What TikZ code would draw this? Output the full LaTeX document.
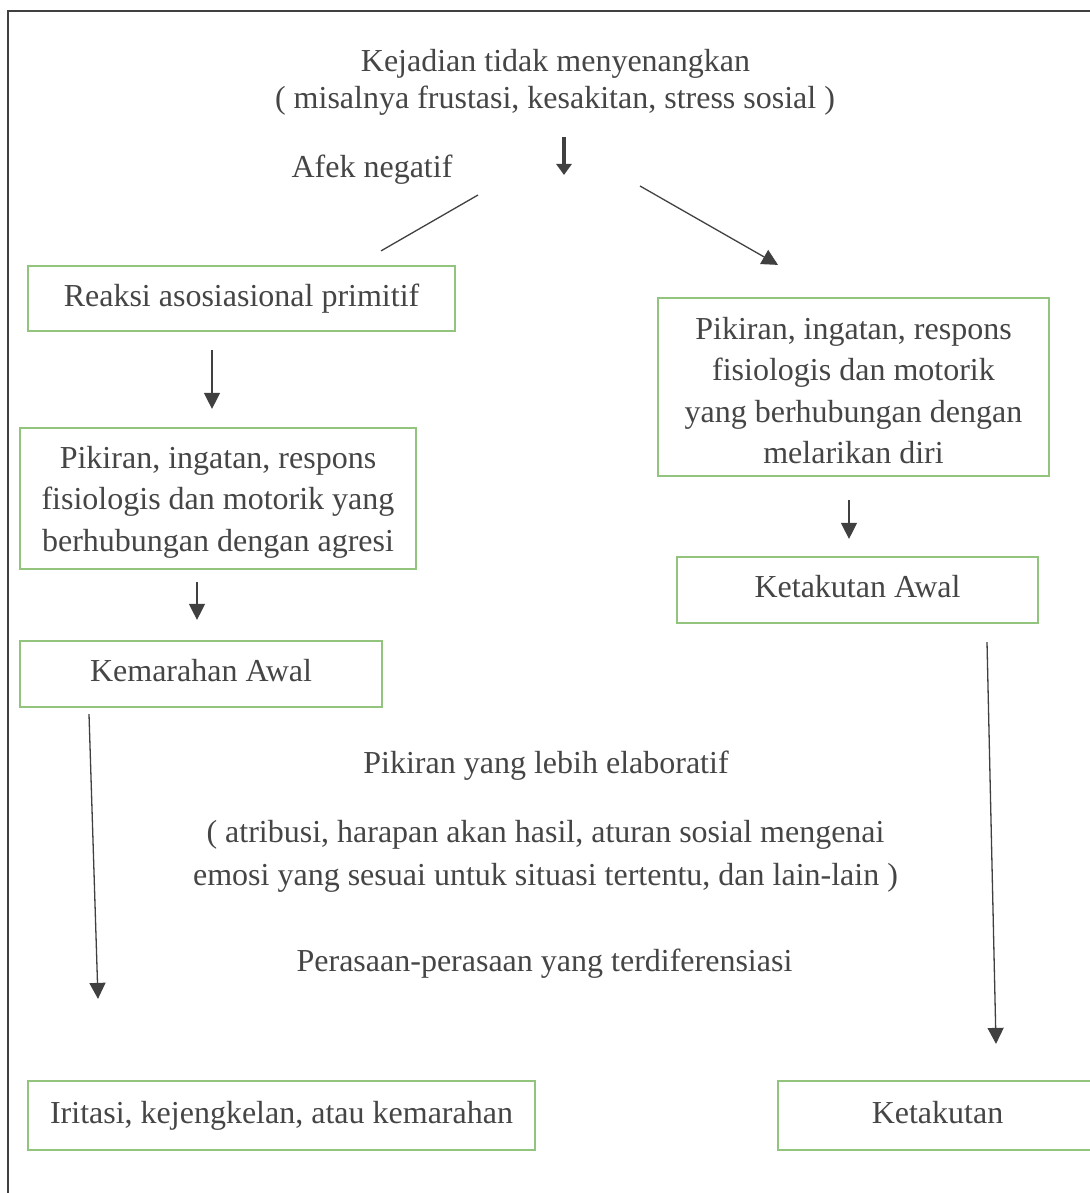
\documentclass[tikz,border=0pt]{standalone}
\usepackage{fontspec}
\setmainfont{Liberation Serif}
\usetikzlibrary{arrows.meta,calc}
\definecolor{txtc}{HTML}{454545}
\definecolor{linec}{HTML}{404040}
\definecolor{boxg}{HTML}{93C47D}
\newcommand{\fstrut}[1]{\rule{0pt}{#1}}
\newcommand{\lstrut}{\rule[-7pt]{0pt}{7pt}}
\begin{document}
\begin{tikzpicture}[x=1pt,y=-1pt,
  every node/.style={font=\fontsize{32}{41.5}\selectfont, text=txtc},
  box/.style={draw=boxg, line width=2.2pt, align=center, inner sep=0pt},
  sbox/.style={box, text height=22pt, text depth=7pt},
  txt/.style={inner sep=0pt, anchor=base},
  arr/.style={draw=linec, line width=1.3pt, -{Triangle[width=16pt,length=16pt]}},
  ln/.style={draw=linec, line width=1.3pt},
  thk/.style={draw=linec, line width=4pt, -{Triangle[width=15pt,length=11pt]}}]
\useasboundingbox (0,0) rectangle (1089,1193);
% outer frame
\draw[linec, line width=2pt] (8,1260) -- (8,11) -- (1160,11);

% free texts
\node[txt] (title1) at (555.5,72) {Kejadian tidak menyenangkan};
\node[txt] (title2) at (555,109) {( misalnya frustasi, kesakitan, stress sosial )};
\node[txt] (afek) at (372,178) {Afek negatif};
\node[txt] (elab) at (546,773) {Pikiran yang lebih elaboratif};
\node[txt] (attr1) at (545.5,842) {( atribusi, harapan akan hasil, aturan sosial mengenai};
\node[txt] (attr2) at (545.5,885) {emosi yang sesuai untuk situasi tertentu, dan lain-lain )};
\node[txt] (feel) at (544.5,971) {Perasaan-perasaan yang terdiferensiasi};

% boxes
\node[sbox, minimum width=427pt, minimum height=65pt] (reaksi) at (241.5,298.5) {Reaksi asosiasional primitif};
\node[box, minimum width=396pt, minimum height=141pt] (agresi) at (218,498.5)
  {\fstrut{29pt}Pikiran, ingatan, respons\\ fisiologis dan motorik yang\\ berhubungan dengan agresi};
\node[sbox, minimum width=362pt, minimum height=66pt] (marah) at (201,674) {Kemarahan Awal};
\node[box, minimum width=391pt, minimum height=178pt] (lari) at (853.5,387)
  {\fstrut{35.5pt}Pikiran, ingatan, respons\\ fisiologis dan motorik\\ yang berhubungan dengan\\ melarikan diri\lstrut};
\node[sbox, minimum width=361pt, minimum height=66pt] (takutawal) at (857.5,590) {Ketakutan Awal};
\node[sbox, minimum width=507pt, minimum height=69pt] (iritasi) at (281.5,1115.5) {Iritasi, kejengkelan, atau kemarahan};
\node[sbox, minimum width=319pt, minimum height=69pt] (takut) at (937.5,1115.5) {Ketakutan};

% connectors
\draw[thk] ($(title2.base)+(9,28)$) -- ($(title2.base)+(9,66)$);
\draw[ln] ($(title2.base)+(-77,86)$) -- ($(reaksi.north)+(139.5,-14)$);
\draw[arr] ($(title2.base)+(85,77)$) -- ($(lari.north)+(-75.5,-32)$);
\draw[arr] ($(reaksi.south)+(-29.5,18)$) -- ($(agresi.north)+(-6,-18)$);
\draw[arr] ($(agresi.south)+(-21,12)$) -- ($(marah.north)+(-4,-20)$);
\draw[arr] ($(lari.south)+(-4.5,23)$) -- ($(takutawal.north)+(-8.5,-17)$);
\draw[arr] ($(marah.south)+(-112,6)$) -- ($(iritasi.north)+(-183.5,-81)$);
\draw[arr] ($(takutawal.south)+(129.5,18)$) -- ($(takut.north)+(58.5,-36)$);
\end{tikzpicture}
\end{document}
